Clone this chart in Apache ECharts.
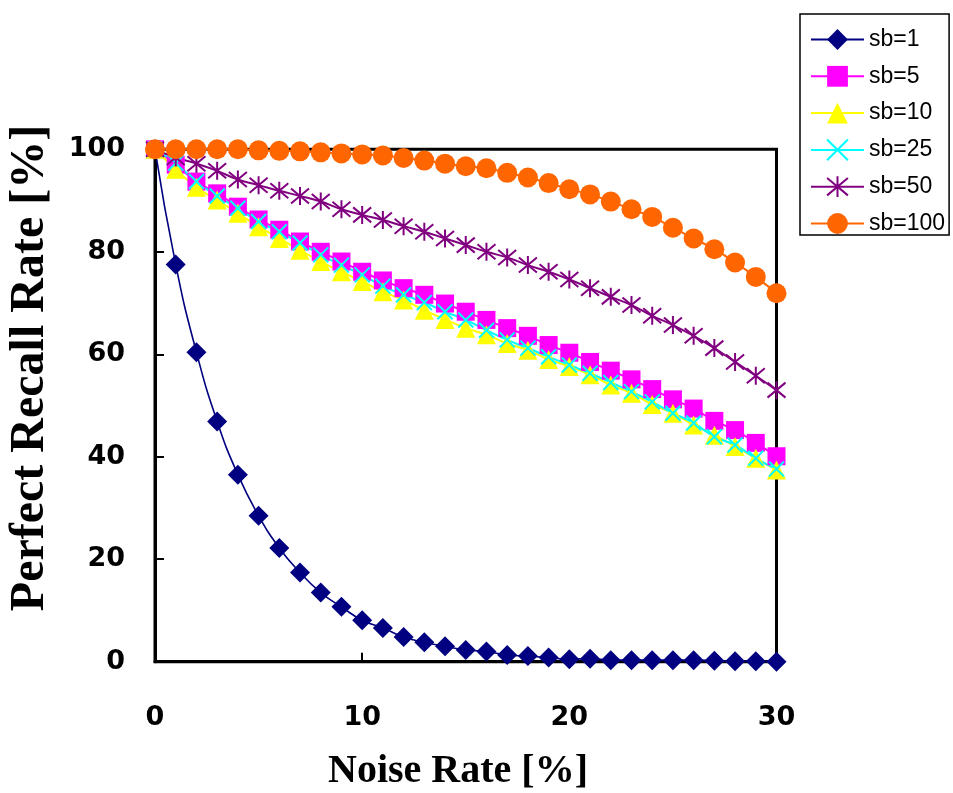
<!DOCTYPE html>
<html>
<head>
<meta charset="utf-8">
<script src="https://cdn.jsdelivr.net/npm/echarts@6/dist/echarts.min.js"></script>
<style>
  html, body { margin: 0; padding: 0; background: #fff; }
  #chart { width: 953px; height: 793px; }
</style>
</head>
<body>
<div id="chart"></div>
<script>
// noise rate [%] on the x axis
const noiseRate = [0, 1, 2, 3, 4, 5, 6, 7, 8, 9, 10, 11, 12, 13, 14, 15,
  16, 17, 18, 19, 20, 21, 22, 23, 24, 25, 26, 27, 28, 29, 30];

// perfect recall rate [%] per sb value
const sb1 = [100, 77.5, 60.4, 46.9, 36.5, 28.5, 22.2, 17.4, 13.5, 10.7, 8.1, 6.6, 4.8, 3.8, 3.0, 2.3,
  2.0, 1.3, 1.1, 0.8, 0.5, 0.6, 0.3, 0.3, 0.3, 0.3, 0.3, 0.2, 0.1, 0.1, 0];
const sb5 = [100, 97.0, 93.7, 91.4, 88.8, 86.3, 84.3, 82.0, 80.0, 78.1, 76.1, 74.4, 72.9, 71.6, 69.9, 68.3,
  66.7, 65.1, 63.6, 61.8, 60.3, 58.5, 56.8, 55.1, 53.2, 51.2, 49.4, 47.0, 45.2, 42.7, 40.1];
const sb10 = [100, 96.1, 92.6, 90.1, 87.5, 84.9, 82.6, 80.3, 78.1, 76.1, 74.2, 72.2, 70.6, 68.6, 66.8, 65.1,
  63.8, 62.1, 60.8, 59.0, 57.6, 56.0, 54.0, 52.4, 50.2, 48.5, 46.2, 44.2, 42.0, 39.7, 37.4];
const sb25 = [100, 97.3, 93.7, 90.9, 88.5, 85.9, 83.9, 81.7, 79.4, 77.4, 75.5, 73.3, 71.6, 70.1, 68.3, 66.7,
  64.7, 62.8, 61.2, 59.5, 57.9, 56.3, 54.5, 52.7, 50.7, 48.5, 46.6, 43.9, 42.3, 39.7, 37.6];
const sb50 = [100, 98.4, 97.2, 95.8, 94.1, 93.0, 91.9, 90.9, 89.8, 88.3, 87.2, 86.2, 85.0, 83.9, 82.6, 81.3,
  80.0, 78.9, 77.4, 76.1, 74.6, 72.9, 71.2, 69.6, 67.5, 65.7, 63.6, 61.2, 58.5, 55.8, 53.0];
const sb100 = [100, 100, 100, 100, 100, 99.8, 99.7, 99.6, 99.4, 99.2, 99.0, 98.8, 98.3, 97.8, 97.2, 96.7,
  96.3, 95.4, 94.5, 93.4, 92.2, 91.2, 89.8, 88.3, 86.8, 84.7, 82.6, 80.5, 77.9, 75.1, 71.9];

const xTicks = [0, 10, 20, 30];
const yTicks = [0, 20, 40, 60, 80, 100];

// Excel-like marker shapes that ECharts does not ship
const crossPath = 'path://M0,0L10,10M10,0L0,10';
const starPath = 'path://M0,0L10,10M10,0L0,10M5,-1L5,11';

const pairs = ys => noiseRate.map((x, i) => [x, ys[i]]);

const makeSeries = (name, ys, color, symbol, size, stroke, lineWidth) => ({
  name: name,
  type: 'line',
  data: pairs(ys),
  smooth: true,
  clip: false,
  symbol: symbol,
  symbolSize: size,
  showAllSymbol: true,
  color: color,
  lineStyle: { color: color, width: lineWidth || 2 },
  itemStyle: stroke
    ? { color: color, borderColor: color, borderWidth: 2 }
    : { color: color, borderWidth: 0 },
  emphasis: { disabled: true }
});

const chart = echarts.init(document.getElementById('chart'));

chart.setOption({
  animation: false,
  backgroundColor: '#fff',
  grid: {
    left: 155, right: 176.5, top: 149.3, bottom: 131.3,
    show: true, borderColor: '#000', borderWidth: 3, backgroundColor: '#fff'
  },
  legend: {
    orient: 'vertical',
    left: 800, top: 14,
    padding: [14, 4, 0, 10],
    itemWidth: 53, itemHeight: 26, itemGap: 13.8,
    borderColor: '#000', borderWidth: 1.5,
    backgroundColor: '#fff',
    textStyle: { fontFamily: 'Liberation Sans', fontSize: 23, color: '#000' },
    data: ['sb=1', 'sb=5', 'sb=10', 'sb=25', 'sb=50', 'sb=100']
  },
  xAxis: {
    type: 'value', min: 0, max: 30, interval: 10,
    axisLine: { show: true, lineStyle: { color: '#000', width: 3 } },
    axisTick: { show: true, inside: true, length: 9, lineStyle: { color: '#000', width: 2 } },
    splitLine: { show: false },
    axisLabel: {
      margin: 43, fontFamily: 'DejaVu Sans', fontWeight: 'bold', fontSize: 27, color: '#000',
      formatter: v => (xTicks.includes(v) ? String(v) : '')
    }
  },
  yAxis: {
    type: 'value', min: 0, max: 100, interval: 20,
    axisLine: { show: true, lineStyle: { color: '#000', width: 3 } },
    axisTick: { show: true, inside: true, length: 9, lineStyle: { color: '#000', width: 2 } },
    splitLine: { show: false },
    axisLabel: {
      margin: 30, fontFamily: 'DejaVu Sans', fontWeight: 'bold', fontSize: 27, color: '#000',
      formatter: v => (yTicks.includes(v) ? String(v) : '')
    }
  },
  graphic: [
    {
      type: 'text', x: 31, y: 368, rotation: Math.PI / 2,
      style: {
        text: 'Perfect Recall Rate [%]', textAlign: 'center', textVerticalAlign: 'middle',
        font: 'bold 48px "Liberation Serif", "Times New Roman", serif', fill: '#000'
      }
    },
    {
      type: 'text', x: 458, y: 772,
      style: {
        text: 'Noise Rate [%]', textAlign: 'center', textVerticalAlign: 'middle',
        font: 'bold 40px "Liberation Serif", "Times New Roman", serif', fill: '#000'
      }
    }
  ],
  series: [
    makeSeries('sb=1', sb1, '#000080', 'diamond', 20, false, 1.6),
    makeSeries('sb=5', sb5, '#FF00FF', 'rect', 18, false),
    makeSeries('sb=10', sb10, '#FFFF00', 'triangle', 19, false),
    makeSeries('sb=25', sb25, '#00FFFF', crossPath, 15, true),
    makeSeries('sb=50', sb50, '#800080', starPath, 18, true),
    makeSeries('sb=100', sb100, '#FF6600', 'circle', 20, false)
  ]
});
</script>
</body>
</html>
